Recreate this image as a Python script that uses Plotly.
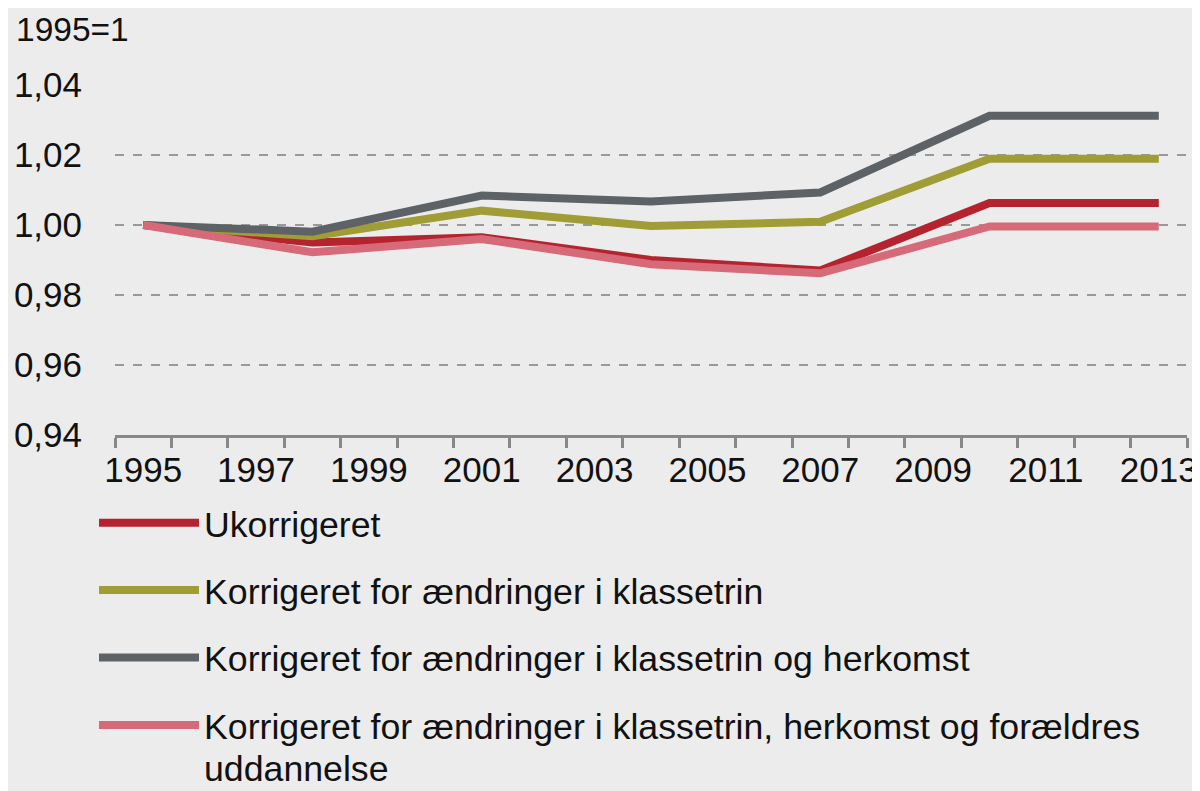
import plotly.graph_objects as go

years = [1995, 1998, 2001, 2004, 2007, 2010, 2013]
ukorrigeret = [1.000, 0.9950, 0.9965, 0.9900, 0.9870, 1.0063, 1.0063]
klassetrin = [1.000, 0.9968, 1.0041, 0.9997, 1.0009, 1.0189, 1.0189]
herkomst = [1.000, 0.9981, 1.0084, 1.0067, 1.0093, 1.0312, 1.0312]
foraeldre = [1.000, 0.9922, 0.9960, 0.9888, 0.9862, 0.9996, 0.9996]

names = [
    "Ukorrigeret",
    "Korrigeret for ændringer i klassetrin",
    "Korrigeret for ændringer i klassetrin og herkomst",
    "Korrigeret for ændringer i klassetrin, herkomst og forældres",
]
name_continuation = "uddannelse"
colors = ["#b5232e", "#a09d36", "#5d6266", "#d66a79"]
series = [ukorrigeret, klassetrin, herkomst, foraeldre]

xtick_vals = list(range(1995, 2014, 2))
ytick_vals = [0.94, 0.96, 0.98, 1.00, 1.02, 1.04]

FONT = "Liberation Sans, Arial, sans-serif"
TXT = "#111111"

W, H = 1192, 783
ML, MR, MT, MB = 107, 13, 77, 356
PW, PH = W - ML - MR, H - MT - MB

fig = go.Figure()
for i, (nm, col, ys) in enumerate(zip(names, colors, series)):
    fig.add_trace(go.Scatter(
        x=years, y=ys, mode="lines", name=nm,
        line=dict(color=col, width=8),
        legendgroup=str(i),
    ))

fig.update_layout(
    width=W, height=H,
    paper_bgcolor="#ececec", plot_bgcolor="#ececec",
    separators=",.",
    margin=dict(l=ML, r=MR, t=MT, b=MB, autoexpand=False),
    font=dict(family=FONT, size=34, color=TXT),
    showlegend=True,
    legend=dict(
        orientation="v",
        xref="container", yref="container",
        x=86 / W, y=1 - 485 / H, xanchor="left", yanchor="top",
        bgcolor="rgba(0,0,0,0)",
        font=dict(family=FONT, size=35.7, color=TXT),
        traceorder="grouped", tracegroupgap=18,
        itemwidth=100, valign="top",
    ),
    annotations=[
        dict(
            text="1995=1", xref="paper", yref="paper",
            x=(6 - ML) / PW, y=1 + (MT - 1) / PH, xanchor="left", yanchor="top",
            showarrow=False, font=dict(family=FONT, size=33.5, color=TXT),
        ),
        dict(
            text=name_continuation, xref="paper", yref="paper",
            x=(194 - ML) / PW, y=-(MB - 0.5) / PH, xanchor="left", yanchor="bottom",
            showarrow=False, font=dict(family=FONT, size=35.7, color=TXT),
        ),
    ],
)

fig.update_xaxes(
    range=[1994.5, 2013.5], automargin=False,
    tickvals=xtick_vals, ticktext=[str(v) for v in xtick_vals],
    ticks="", showgrid=False, zeroline=False,
    showline=True, linecolor="#888888", linewidth=3,
    ticklabelstandoff=2,
    tickfont=dict(family=FONT, size=35, color=TXT),
    minor=dict(ticks="outside", tick0=1994.5, dtick=1, ticklen=10,
               tickwidth=3, tickcolor="#888888", showgrid=False),
)
fig.update_yaxes(
    range=[0.94, 1.04], automargin=False,
    tickvals=ytick_vals, tickformat=".2f",
    showgrid=True, gridcolor="#999999", griddash="dash", gridwidth=2,
    zeroline=False, showline=False, ticks="",
    ticklabelstandoff=32,
    tickfont=dict(family=FONT, size=35, color=TXT),
)

fig.write_html("out.html")
